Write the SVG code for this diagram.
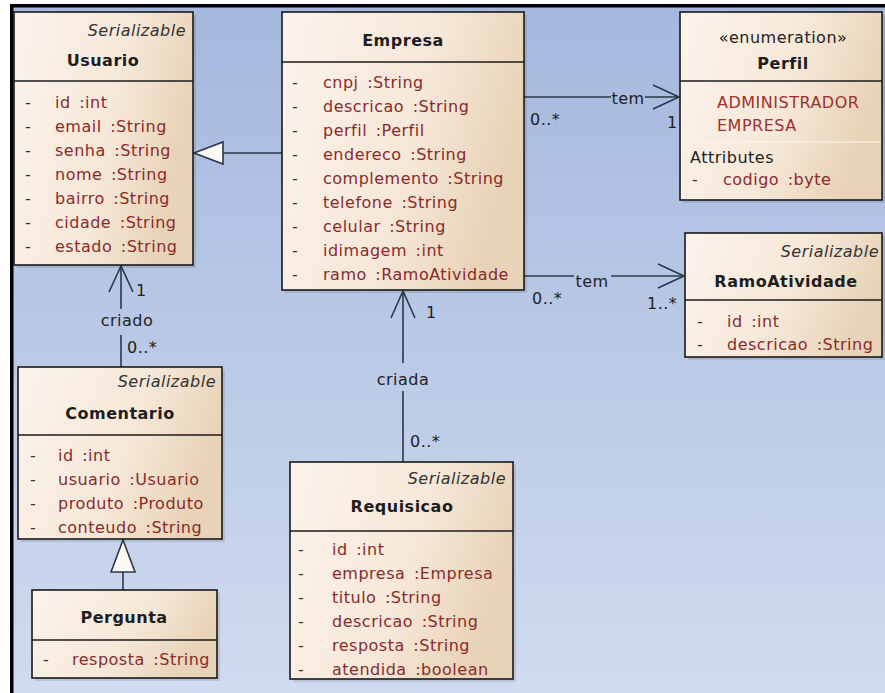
<svg xmlns="http://www.w3.org/2000/svg" width="885" height="693" viewBox="0 0 885 693">
  <defs>
    <linearGradient id="bg" x1="0" y1="0" x2="0" y2="1">
      <stop offset="0" stop-color="#a4b7dd"/>
      <stop offset="1" stop-color="#d0dbef"/>
    </linearGradient>
    <linearGradient id="boxFill" x1="0" y1="0" x2="1" y2="0.3">
      <stop offset="0" stop-color="#fcf3ec"/>
      <stop offset="0.6" stop-color="#f6e8d9"/>
      <stop offset="1" stop-color="#e8d3b7"/>
    </linearGradient>
    <style>
      .box { fill: url(#boxFill); stroke: #1a1a1a; stroke-width: 1.6; }
      .sep { stroke: #1a1a1a; stroke-width: 1.6; }
      .shadow { fill: #000; opacity: 0.10; }
      text { font-family: "DejaVu Sans", Verdana, sans-serif; font-size: 16px; letter-spacing: 0.5px; }
      .stereo { font-style: italic; fill: #333; text-anchor: end; }
      .name { font-weight: bold; fill: #1e1e1e; text-anchor: middle; }
      .enum { fill: #222; text-anchor: middle; }
      .dash { fill: #333; }
      .attr { fill: #8a2a2a; }
      .lit { fill: #a0302c; }
      .plain { fill: #1e1e1e; }
      .lbl { fill: #222; }
      .mid { text-anchor: middle; }
      .line { stroke: #2b3848; stroke-width: 1.6; fill: none; }
      .open { stroke: #2b3848; stroke-width: 1.6; fill: none; stroke-linejoin: miter; }
      .gen { stroke: #2b3848; stroke-width: 1.6; fill: #fdfaf5; }
    </style>
  </defs>

  <!-- page and diagram frame -->
  <rect x="0" y="0" width="885" height="693" fill="#ffffff"/>
  <rect x="12" y="6" width="873" height="687" fill="url(#bg)"/>
  <rect x="10" y="4" width="3.5" height="689" fill="#000"/>
  <rect x="10" y="4" width="875" height="3.5" fill="#000"/>

  <!-- connectors -->
  <g id="connectors">
    <!-- Empresa generalizes Usuario -->
    <line class="line" x1="223" y1="153" x2="282" y2="153"/>
    <polygon class="gen" points="194,153 223,142 223,164"/>

    <!-- Empresa tem Perfil -->
    <line class="line" x1="524" y1="97" x2="611" y2="97"/>
    <line class="line" x1="645" y1="97" x2="679" y2="97"/>
    <polyline class="open" points="653,85 679,97 653,109"/>
    <text class="lbl mid" x="628" y="104">tem</text>
    <text class="lbl" x="530" y="125">0..*</text>
    <text class="lbl" x="667" y="128">1</text>

    <!-- Empresa tem RamoAtividade -->
    <line class="line" x1="524" y1="276" x2="574" y2="276"/>
    <line class="line" x1="611" y1="276" x2="684" y2="276"/>
    <polyline class="open" points="658,264 684,276 658,288"/>
    <text class="lbl mid" x="592" y="287">tem</text>
    <text class="lbl" x="532" y="304">0..*</text>
    <text class="lbl" x="647" y="309">1..*</text>

    <!-- Comentario criado por Usuario -->
    <line class="line" x1="121" y1="266" x2="121" y2="309"/>
    <line class="line" x1="121" y1="335" x2="121" y2="367"/>
    <polyline class="open" points="109,292 121,266 133,292"/>
    <text class="lbl mid" x="127" y="326">criado</text>
    <text class="lbl" x="136" y="296">1</text>
    <text class="lbl" x="127" y="353">0..*</text>

    <!-- Requisicao criada por Empresa -->
    <line class="line" x1="403" y1="291" x2="403" y2="363"/>
    <line class="line" x1="403" y1="391" x2="403" y2="462"/>
    <polyline class="open" points="391,318 403,291 415,318"/>
    <text class="lbl mid" x="403" y="385">criada</text>
    <text class="lbl" x="426" y="318">1</text>
    <text class="lbl" x="410" y="447">0..*</text>

    <!-- Pergunta generalizes Comentario -->
    <line class="line" x1="123" y1="572" x2="123" y2="590"/>
    <polygon class="gen" points="123,540 111,572 135,572"/>
  </g>

  <!-- Usuario -->
  <g id="usuario">
    <rect class="shadow" x="17" y="15" width="179" height="253"/>
    <rect class="box" x="14" y="12" width="179" height="253"/>
    <line class="sep" x1="14" y1="81" x2="193" y2="81"/>
    <text class="stereo" x="186" y="36">Serializable</text>
    <text class="name" x="103" y="66">Usuario</text>
    <g class="dash">
      <text x="25" y="108">-</text><text x="25" y="132">-</text><text x="25" y="156">-</text>
      <text x="25" y="180">-</text><text x="25" y="204">-</text><text x="25" y="228">-</text>
      <text x="25" y="252">-</text>
    </g>
    <g class="attr">
      <text x="55" y="108">id <tspan dx="3">:int</tspan></text>
      <text x="55" y="132">email <tspan dx="3">:String</tspan></text>
      <text x="55" y="156">senha <tspan dx="3">:String</tspan></text>
      <text x="55" y="180">nome <tspan dx="3">:String</tspan></text>
      <text x="55" y="204">bairro <tspan dx="3">:String</tspan></text>
      <text x="55" y="228">cidade <tspan dx="3">:String</tspan></text>
      <text x="55" y="252">estado <tspan dx="3">:String</tspan></text>
    </g>
  </g>

  <!-- Empresa -->
  <g id="empresa">
    <rect class="shadow" x="285" y="15" width="242" height="278"/>
    <rect class="box" x="282" y="12" width="242" height="278"/>
    <line class="sep" x1="282" y1="62" x2="524" y2="62"/>
    <text class="name" x="403" y="46">Empresa</text>
    <g class="dash">
      <text x="292" y="88">-</text><text x="292" y="112">-</text><text x="292" y="136">-</text>
      <text x="292" y="160">-</text><text x="292" y="184">-</text><text x="292" y="208">-</text>
      <text x="292" y="232">-</text><text x="292" y="256">-</text><text x="292" y="280">-</text>
    </g>
    <g class="attr">
      <text x="323" y="88">cnpj <tspan dx="3">:String</tspan></text>
      <text x="323" y="112">descricao <tspan dx="3">:String</tspan></text>
      <text x="323" y="136">perfil <tspan dx="3">:Perfil</tspan></text>
      <text x="323" y="160">endereco <tspan dx="3">:String</tspan></text>
      <text x="323" y="184">complemento <tspan dx="3">:String</tspan></text>
      <text x="323" y="208">telefone <tspan dx="3">:String</tspan></text>
      <text x="323" y="232">celular <tspan dx="3">:String</tspan></text>
      <text x="323" y="256">idimagem <tspan dx="3">:int</tspan></text>
      <text x="323" y="280">ramo <tspan dx="3">:RamoAtividade</tspan></text>
    </g>
  </g>

  <!-- Perfil (enumeration) -->
  <g id="perfil">
    <rect class="shadow" x="683" y="15" width="202" height="188"/>
    <rect class="box" x="680" y="12" width="202" height="188"/>
    <line class="sep" x1="680" y1="81" x2="882" y2="81"/>
    <line x1="681" y1="142" x2="881" y2="142" stroke="#fbf5ee" stroke-width="1.2"/>
    <text class="enum" x="783" y="43">«enumeration»</text>
    <text class="name" x="783" y="69">Perfil</text>
    <text class="lit" x="717" y="108">ADMINISTRADOR</text>
    <text class="lit" x="717" y="131">EMPRESA</text>
    <text class="plain" x="690" y="163">Attributes</text>
    <text class="dash" x="692" y="185">-</text>
    <text class="attr" x="723" y="185">codigo <tspan dx="3">:byte</tspan></text>
  </g>

  <!-- RamoAtividade -->
  <g id="ramoatividade">
    <rect class="shadow" x="688" y="236" width="197" height="124"/>
    <rect class="box" x="685" y="233" width="197" height="124"/>
    <line class="sep" x1="685" y1="300" x2="882" y2="300"/>
    <text class="stereo" x="879" y="257">Serializable</text>
    <text class="name" x="786" y="287">RamoAtividade</text>
    <text class="dash" x="697" y="327">-</text>
    <text class="dash" x="697" y="350">-</text>
    <text class="attr" x="727" y="327">id <tspan dx="3">:int</tspan></text>
    <text class="attr" x="727" y="350">descricao <tspan dx="3">:String</tspan></text>
  </g>

  <!-- Comentario -->
  <g id="comentario">
    <rect class="shadow" x="21" y="370" width="204" height="172"/>
    <rect class="box" x="18" y="367" width="204" height="172"/>
    <line class="sep" x1="18" y1="435" x2="222" y2="435"/>
    <text class="stereo" x="216" y="387">Serializable</text>
    <text class="name" x="120" y="419">Comentario</text>
    <g class="dash">
      <text x="30" y="461">-</text><text x="30" y="485">-</text>
      <text x="30" y="509">-</text><text x="30" y="533">-</text>
    </g>
    <g class="attr">
      <text x="58" y="461">id <tspan dx="3">:int</tspan></text>
      <text x="58" y="485">usuario <tspan dx="3">:Usuario</tspan></text>
      <text x="58" y="509">produto <tspan dx="3">:Produto</tspan></text>
      <text x="58" y="533">conteudo <tspan dx="3">:String</tspan></text>
    </g>
  </g>

  <!-- Pergunta -->
  <g id="pergunta">
    <rect class="shadow" x="35" y="593" width="185" height="88"/>
    <rect class="box" x="32" y="590" width="185" height="88"/>
    <line class="sep" x1="32" y1="640" x2="217" y2="640"/>
    <text class="name" x="124" y="623">Pergunta</text>
    <text class="dash" x="43" y="665">-</text>
    <text class="attr" x="72" y="665">resposta <tspan dx="3">:String</tspan></text>
  </g>

  <!-- Requisicao -->
  <g id="requisicao">
    <rect class="shadow" x="293" y="465" width="223" height="217"/>
    <rect class="box" x="290" y="462" width="223" height="217"/>
    <line class="sep" x1="290" y1="531" x2="513" y2="531"/>
    <text class="stereo" x="506" y="484">Serializable</text>
    <text class="name" x="402" y="512">Requisicao</text>
    <g class="dash">
      <text x="298" y="555">-</text><text x="298" y="579">-</text><text x="298" y="603">-</text>
      <text x="298" y="627">-</text><text x="298" y="651">-</text><text x="298" y="675">-</text>
    </g>
    <g class="attr">
      <text x="332" y="555">id <tspan dx="3">:int</tspan></text>
      <text x="332" y="579">empresa <tspan dx="3">:Empresa</tspan></text>
      <text x="332" y="603">titulo <tspan dx="3">:String</tspan></text>
      <text x="332" y="627">descricao <tspan dx="3">:String</tspan></text>
      <text x="332" y="651">resposta <tspan dx="3">:String</tspan></text>
      <text x="332" y="675">atendida <tspan dx="3">:boolean</tspan></text>
    </g>
  </g>
</svg>
